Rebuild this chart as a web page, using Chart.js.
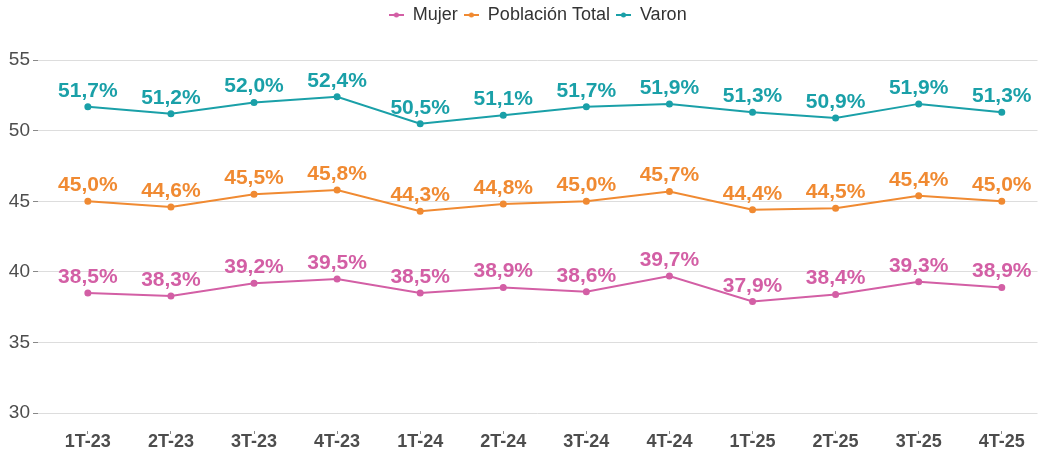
<!DOCTYPE html>
<html>
<head>
<meta charset="utf-8">
<script src="https://cdn.jsdelivr.net/npm/chart.js@4"></script>
<style>
  html, body { margin: 0; padding: 0; background: #fff; }
  #wrap { width: 1042px; height: 460px; }
</style>
</head>
<body>
<div id="wrap"><canvas id="lineChart"></canvas></div>
<script>
var quarters = ["1T-23", "2T-23", "3T-23", "4T-23", "1T-24", "2T-24", "3T-24", "4T-24", "1T-25", "2T-25", "3T-25", "4T-25"];
var mujer = [38.5, 38.3, 39.2, 39.5, 38.5, 38.9, 38.6, 39.7, 37.9, 38.4, 39.3, 38.9];
var total = [45.0, 44.6, 45.5, 45.8, 44.3, 44.8, 45.0, 45.7, 44.4, 44.5, 45.4, 45.0];
var varon = [51.7, 51.2, 52.0, 52.4, 50.5, 51.1, 51.7, 51.9, 51.3, 50.9, 51.9, 51.3];
var yTicks = [30, 35, 40, 45, 50, 55];

var FONT = "'Liberation Sans', Arial, sans-serif";

function toPoints(arr) {
  return arr.map(function (v, i) { return { x: i, y: v }; });
}

// small "line with dot" marker for the legend
function legendMarker(color) {
  var c = document.createElement("canvas");
  c.width = 15; c.height = 8;
  var g = c.getContext("2d");
  g.strokeStyle = color;
  g.lineWidth = 2;
  g.beginPath(); g.moveTo(0, 4); g.lineTo(15, 4); g.stroke();
  g.fillStyle = color;
  g.beginPath(); g.arc(7.5, 4, 2.5, 0, Math.PI * 2); g.fill();
  return c;
}

var valueLabels = {
  id: "valueLabels",
  afterDatasetsDraw: function (chart) {
    var ctx = chart.ctx;
    ctx.save();
    ctx.font = "bold 21px " + FONT;
    ctx.textAlign = "center";
    ctx.textBaseline = "alphabetic";
    chart.data.datasets.forEach(function (ds, i) {
      var meta = chart.getDatasetMeta(i);
      ctx.fillStyle = ds.borderColor;
      meta.data.forEach(function (pt, j) {
        var txt = ds.data[j].y.toFixed(1).replace(".", ",") + "%";
        ctx.fillText(txt, pt.x, pt.y - 10);
      });
    });
    ctx.restore();
  }
};

var series = [
  { label: "Mujer", values: mujer, color: "#d35fa5" },
  { label: "Población Total", values: total, color: "#f08a32" },
  { label: "Varon", values: varon, color: "#1aa0a8" }
];

var ctx = document.getElementById("lineChart").getContext("2d");
var lineChart = new Chart(ctx, {
  type: "line",
  data: {
    datasets: series.map(function (s) {
      return {
        label: s.label,
        data: toPoints(s.values),
        borderColor: s.color,
        backgroundColor: s.color,
        borderWidth: 2,
        pointRadius: 2.5,
        pointHoverRadius: 2.5,
        tension: 0,
        fill: false
      };
    })
  },
  options: {
    responsive: true,
    maintainAspectRatio: false,
    animation: false,
    layout: { padding: 0 },
    plugins: {
      tooltip: { enabled: false },
      legend: {
        position: "top",
        align: "center",
        fullSize: false,
        labels: {
          color: "#333333",
          font: { family: FONT, size: 18 },
          usePointStyle: true,
          pointStyleWidth: 15,
          boxHeight: 8,
          padding: 6,
          generateLabels: function (chart) {
            return chart.data.datasets.map(function (ds, i) {
              return {
                text: ds.label,
                fillStyle: ds.borderColor,
                strokeStyle: ds.borderColor,
                fontColor: "#333333",
                pointStyle: legendMarker(ds.borderColor),
                datasetIndex: i,
                hidden: false
              };
            });
          }
        }
      }
    },
    scales: {
      x: {
        type: "linear",
        min: -0.6,
        max: 11.43,
        afterBuildTicks: function (scale) {
          scale.ticks = quarters.map(function (q, i) { return { value: i }; });
        },
        afterFit: function (scale) { scale.height = 29; },
        ticks: {
          color: "#4d4d4d",
          font: { family: FONT, size: 18, weight: "bold" },
          padding: -3,
          maxRotation: 0,
          autoSkip: false,
          callback: function (v) { return quarters[v]; }
        },
        grid: {
          drawOnChartArea: false,
          drawTicks: true,
          tickLength: 3,
          tickColor: "#888888"
        },
        border: { display: false }
      },
      y: {
        min: 28.73,
        max: 56.85,
        afterBuildTicks: function (scale) {
          scale.ticks = yTicks.map(function (v) { return { value: v }; });
        },
        afterFit: function (scale) { scale.width = 38; },
        ticks: {
          color: "#4d4d4d",
          font: { family: FONT, size: 19 },
          padding: 3
        },
        grid: {
          color: "#dddddd",
          lineWidth: 1,
          tickLength: 5,
          tickColor: "#888888"
        },
        border: { display: false }
      }
    }
  },
  plugins: [valueLabels]
});
</script>
</body>
</html>
